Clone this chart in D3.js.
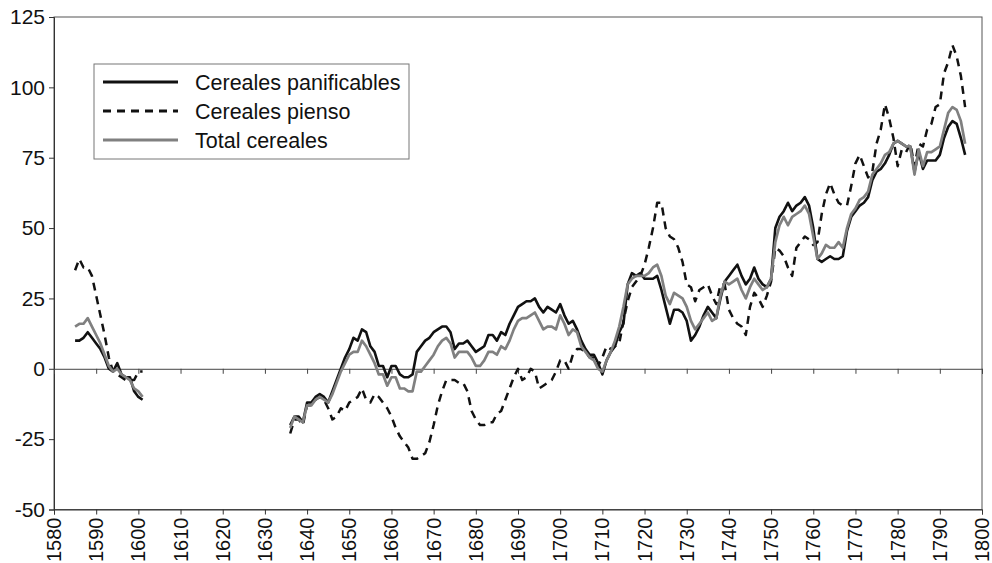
<!DOCTYPE html>
<html>
<head>
<meta charset="utf-8">
<script src="https://cdn.jsdelivr.net/npm/d3@7"></script>
<style>
  html, body { margin: 0; padding: 0; background: #fff; }
  svg { display: block; }
  text { font-family: "Liberation Sans", Arial, Helvetica, sans-serif; fill: #111; }
</style>
</head>
<body>
<svg id="chart" width="992" height="563"></svg>
<script>
// ---------------- DATA ----------------
const seriesNames = ["Cereales panificables", "Cereales pienso", "Total cereales"];

const years1 = [1585,1586,1587,1588,1589,1590,1591,1592,1593,1594,1595,1596,1597,1598,1599,1600,1601];
const panif1 = [10,10,11,13,11,9,7,4,0,-1,2,-2,-3,-3,-8,-10,-11];
const pienso1 = [35,39,36,36,33,26,19,12,4,-1,-2,-3,-4,-4,-4,-1,-1];
const total1 = [15,16,16,18,15,12,9,5,1,-1,0,-2,-3,-4,-7,-8,-10];

const years2 = [
 1636,1637,1638,1639,1640,1641,1642,1643,1644,1645,1646,1647,1648,1649,1650,1651,1652,1653,1654,1655,
 1656,1657,1658,1659,1660,1661,1662,1663,1664,1665,1666,1667,1668,1669,1670,1671,1672,1673,1674,1675,
 1676,1677,1678,1679,1680,1681,1682,1683,1684,1685,1686,1687,1688,1689,1690,1691,1692,1693,1694,1695,
 1696,1697,1698,1699,1700,1701,1702,1703,1704,1705,1706,1707,1708,1709,1710,1711,1712,1713,1714,1715,
 1716,1717,1718,1719,1720,1721,1722,1723,1724,1725,1726,1727,1728,1729,1730,1731,1732,1733,1734,1735,
 1736,1737,1738,1739,1740,1741,1742,1743,1744,1745,1746,1747,1748,1749,1750,1751,1752,1753,1754,1755,
 1756,1757,1758,1759,1760,1761,1762,1763,1764,1765,1766,1767,1768,1769,1770,1771,1772,1773,1774,1775,
 1776,1777,1778,1779,1780,1781,1782,1783,1784,1785,1786,1787,1788,1789,1790,1791,1792,1793,1794,1795,
 1796];

const panif2 = [
 -20,-17,-17,-19,-12,-12,-10,-9,-10,-12,-8,-4,0,4,7,11,10,14,13,8,
 6,1,1,-3,1,1,-2,-3,-3,-2,6,8,10,11,13,14,15,15,13,7,
 9,9,10,8,6,7,8,12,12,10,13,12,16,19,22,23,24,24,25,22,
 20,22,21,20,23,19,16,17,14,10,7,5,5,2,-2,3,6,8,13,16,
 30,34,33,34,32,32,32,33,28,22,16,21,21,20,17,10,12,15,19,22,
 20,18,25,31,33,35,37,33,30,32,36,32,30,29,32,50,54,56,59,56,
 58,59,61,58,50,39,38,39,40,39,39,40,49,54,56,58,59,61,67,70,
 71,73,76,80,81,80,79,79,70,77,71,74,74,74,76,82,86,88,87,82,
 76];

const pienso2 = [
 -23,-18,-18,-20,-13,-13,-11,-10,-11,-14,-18,-17,-14,-15,-12,-11,-10,-7,-11,-12,
 -9,-10,-12,-14,-17,-21,-24,-26,-28,-32,-32,-31,-30,-26,-20,-13,-8,-4,-4,-4,
 -5,-5,-8,-15,-18,-20,-20,-19,-19,-16,-15,-11,-7,-3,0,-4,-3,0,-1,-7,
 -6,-5,-4,-1,3,3,0,5,7,7,6,4,4,1,4,8,7,8,9,17,
 24,29,31,33,37,43,50,59,59,50,47,46,43,38,30,29,24,28,29,30,
 26,23,30,30,21,18,16,15,12,22,27,25,22,26,31,43,42,40,36,33,
 43,45,47,46,44,45,55,62,66,62,59,58,58,65,73,76,72,68,70,80,
 85,94,89,82,72,78,77,80,72,80,79,85,87,93,94,105,109,115,111,104,
 93];

const total2 = [
 -21,-17,-18,-19,-13,-13,-11,-10,-11,-12,-9,-5,-1,2,5,6,6,10,8,5,
 2,-2,-2,-6,-3,-3,-7,-7,-8,-8,-1,-1,1,3,5,8,10,11,9,4,
 6,6,6,4,1,1,3,6,6,5,8,7,10,14,17,18,18,19,20,17,
 14,15,15,14,19,16,12,14,13,8,6,4,3,0,-1,3,6,10,15,22,
 30,32,33,33,33,34,36,37,33,26,23,27,26,25,22,17,14,16,18,20,
 17,18,26,31,30,31,32,28,25,29,32,30,28,29,32,45,51,54,51,54,
 55,56,58,55,47,39,41,44,43,43,45,43,50,55,57,60,61,63,69,71,
 73,76,77,80,81,80,79,79,69,78,72,77,77,78,79,85,91,93,92,88,
 80];

const xTicks = [1580,1590,1600,1610,1620,1630,1640,1650,1660,1670,1680,1690,1700,1710,1720,1730,1740,1750,1760,1770,1780,1790,1800];
const yTicks = [-50,-25,0,25,50,75,100,125];

// ---------------- CHART ----------------
const svg = d3.select("#chart");
const FONT = '"Liberation Sans", Arial, Helvetica, sans-serif';

const x = d3.scaleLinear().domain([1580, 1800]).range([54, 982]);
const y = d3.scaleLinear().domain([-50, 125]).range([509.5, 17]);

// plot box
svg.append("rect")
  .attr("x", x(1580)).attr("y", y(125))
  .attr("width", x(1800) - x(1580)).attr("height", y(-50) - y(125))
  .attr("fill", "none").attr("stroke", "#555").attr("stroke-width", 1);

// y axis
const yAxis = svg.append("g")
  .attr("transform", `translate(${x(1580)},0)`)
  .call(d3.axisLeft(y).tickValues(yTicks).tickSize(5).tickPadding(4).tickFormat(d => String(d)));
yAxis.select(".domain").attr("stroke", "#333");
yAxis.selectAll(".tick line").attr("stroke", "#333");
yAxis.selectAll(".tick text").attr("font-family", FONT).attr("font-size", 21).attr("fill", "#111");

// bottom axis (at -50)
const xAxis = svg.append("g")
  .attr("transform", `translate(0,${y(-50)})`)
  .call(d3.axisBottom(x).tickValues(xTicks).tickSize(5).tickFormat(""));
xAxis.select(".domain").attr("stroke", "#333");
xAxis.selectAll(".tick line").attr("stroke", "#333");

// rotated year labels
svg.append("g").selectAll("text")
  .data(xTicks)
  .join("text")
  .attr("transform", d => `translate(${x(d)},${y(-50) + 8}) rotate(-90)`)
  .attr("text-anchor", "end")
  .attr("dy", "0.35em")
  .attr("font-family", FONT)
  .attr("font-size", 20)
  .text(d => d);

// zero line with ticks
const zAxis = svg.append("g")
  .attr("transform", `translate(0,${y(0)})`)
  .call(d3.axisBottom(x).tickValues(xTicks).tickSize(5).tickFormat(""));
zAxis.select(".domain").attr("stroke", "#444");
zAxis.selectAll(".tick line").attr("stroke", "#444");

// lines
const line = d3.line().x(d => x(d[0])).y(d => y(d[1]));
const zipS = (yrs, vals) => yrs.map((yr, i) => [yr, vals[i]]);

const styles = [
  { name: seriesNames[0], segs: [zipS(years1, panif1), zipS(years2, panif2)], stroke: "#111", width: 2.6, dash: null },
  { name: seriesNames[1], segs: [zipS(years1, pienso1), zipS(years2, pienso2)], stroke: "#111", width: 2.5, dash: "8,6" },
  { name: seriesNames[2], segs: [zipS(years1, total1), zipS(years2, total2)], stroke: "#808080", width: 2.7, dash: null }
];

styles.forEach(s => {
  s.segs.forEach(seg => {
    svg.append("path")
      .datum(seg)
      .attr("d", line)
      .attr("fill", "none")
      .attr("stroke", s.stroke)
      .attr("stroke-width", s.width)
      .attr("stroke-linejoin", "round")
      .attr("stroke-dasharray", s.dash);
  });
});

// legend
const lg = svg.append("g");
lg.append("rect")
  .attr("x", 94).attr("y", 64).attr("width", 315).attr("height", 95)
  .attr("fill", "#fff").attr("stroke", "#777").attr("stroke-width", 1);
const rowsY = [82, 111, 140];
styles.forEach((s, i) => {
  lg.append("line")
    .attr("x1", 103).attr("x2", 178).attr("y1", rowsY[i]).attr("y2", rowsY[i])
    .attr("stroke", s.stroke).attr("stroke-width", s.width + 0.3)
    .attr("stroke-dasharray", s.dash);
  lg.append("text")
    .attr("x", 195).attr("y", rowsY[i]).attr("dy", "0.35em")
    .attr("font-family", FONT).attr("font-size", 21.5)
    .text(s.name);
});
</script>
</body>
</html>
